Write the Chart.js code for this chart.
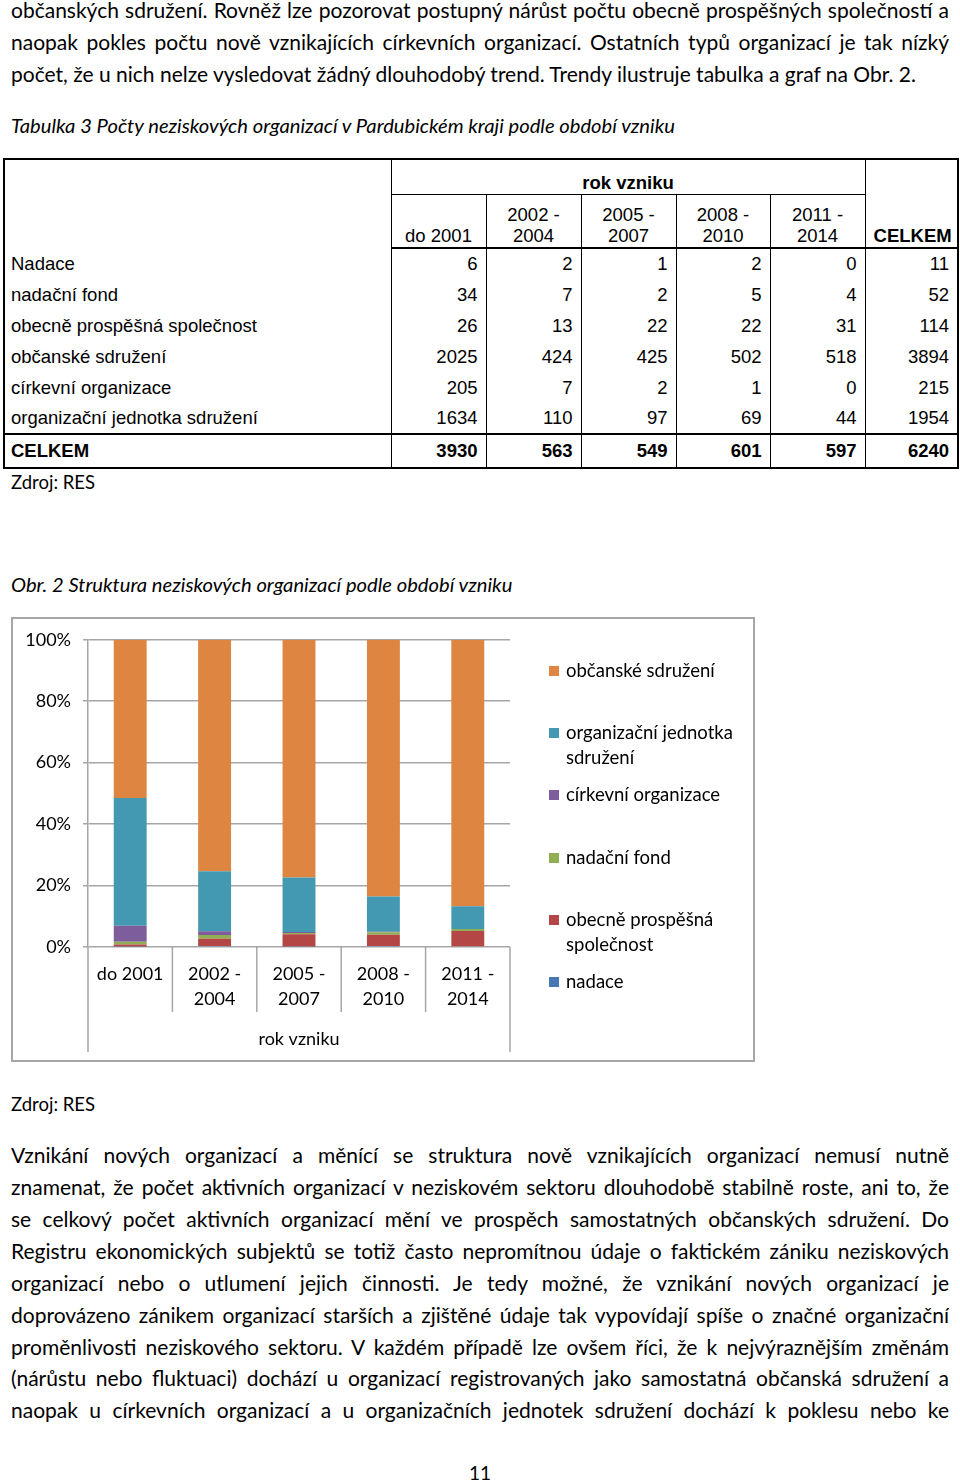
<!DOCTYPE html>
<html lang="cs">
<head>
<meta charset="utf-8">
<title>Struktura neziskových organizací</title>
<script src="https://cdn.jsdelivr.net/npm/chart.js@4.4.1/dist/chart.umd.min.js"></script>
<style>
  body { margin: 0; background: #fff; width: 960px; height: 1484px; position: relative; overflow: hidden; font-family: Lato, "Noto Sans", sans-serif; color: #000; }
  .ln { position: absolute; left: 11px; width: 938px; height: 32px; line-height: 32px; font-size: 21px; white-space: nowrap; }
  .j { text-align: justify; text-align-last: justify; white-space: normal; overflow: hidden; }
  .cap { font-style: italic; font-size: 20.2px; }
  #tbl { position: absolute; left: 3px; top: 158px; width: 954px; border-collapse: collapse; table-layout: fixed;
         font-family: "Liberation Sans", Arial, sans-serif; font-size: 18.5px; border: 2px solid #000; }
  #tbl td { padding: 0 8px; border: 0; white-space: nowrap; }
  #tbl td.lab { padding-left: 6px; }
  #tbl td.v { border-left: 1px solid #000; }
  #tbl td.num { text-align: right; }
  #tbl td.hd { text-align: center; vertical-align: bottom; line-height: 21px; padding-bottom: 1px; }
  #tbl tr.h2 td { border-bottom: 2px solid #000; }
  #tbl tr.tot td { border-top: 2px solid #000; font-weight: bold; }
  #chartBox { position: absolute; left: 11px; top: 617px; width: 744px; height: 445px; }
  #chartFrame { position: absolute; left: 11px; top: 617px; width: 744px; height: 445px; box-sizing: border-box; border: 2px solid #a6a6a6; pointer-events: none; }
  #legend { position: absolute; left: 549px; top: 658px; font-size: 18.5px; }
  #legend .it { height: 62.2px; position: relative; }
  #legend .sw { position: absolute; left: 0; top: 8px; width: 10px; height: 10px; }
  #legend .tx { position: absolute; left: 17px; top: 0; line-height: 25px; white-space: nowrap; }
</style>
</head>
<body>

<div class="ln j" style="top:-6px">občanských sdružení. Rovněž lze pozorovat postupný nárůst počtu obecně prospěšných společností a</div>
<div class="ln j" style="top:26px">naopak pokles počtu nově vznikajících církevních organizací. Ostatních typů organizací je tak nízký</div>
<div class="ln" style="top:58px">počet, že u nich nelze vysledovat žádný dlouhodobý trend. Trendy ilustruje tabulka a graf na Obr. 2.</div>

<div class="ln cap" style="top:109px">Tabulka 3 Počty neziskových organizací v Pardubickém kraji podle období vzniku</div>

<table id="tbl">
  <colgroup>
    <col style="width:387px"><col style="width:95px"><col style="width:95px"><col style="width:95px">
    <col style="width:94px"><col style="width:95px"><col style="width:93px">
  </colgroup>
  <tbody id="tblBody"></tbody>
</table>

<div class="ln" style="top:466px;font-size:18.5px">Zdroj: RES</div>

<div class="ln cap" style="top:568px">Obr. 2 Struktura neziskových organizací podle období vzniku</div>

<div id="chartBox"><canvas id="chart" width="744" height="445"></canvas></div>
<div id="chartFrame"></div>
<div id="legend"></div>

<div class="ln" style="top:1088px;font-size:18.5px">Zdroj: RES</div>

<div class="ln j" style="top:1139px">Vznikání nových organizací a měnící se struktura nově vznikajících organizací nemusí nutně</div>
<div class="ln j" style="top:1171px">znamenat, že počet aktivních organizací v neziskovém sektoru dlouhodobě stabilně roste, ani to, že</div>
<div class="ln j" style="top:1203px">se celkový počet aktivních organizací mění ve prospěch samostatných občanských sdružení. Do</div>
<div class="ln j" style="top:1235px">Registru ekonomických subjektů se totiž často nepromítnou údaje o faktickém zániku neziskových</div>
<div class="ln j" style="top:1267px">organizací nebo o utlumení jejich činnosti. Je tedy možné, že vznikání nových organizací je</div>
<div class="ln j" style="top:1299px">doprovázeno zánikem organizací starších a zjištěné údaje tak vypovídají spíše o značné organizační</div>
<div class="ln j" style="top:1331px">proměnlivosti neziskového sektoru. V každém případě lze ovšem říci, že k nejvýraznějším změnám</div>
<div class="ln j" style="top:1362px">(nárůstu nebo fluktuaci) dochází u organizací registrovaných jako samostatná občanská sdružení a</div>
<div class="ln j" style="top:1394px">naopak u církevních organizací a u organizačních jednotek sdružení dochází k poklesu nebo ke</div>

<div class="ln" style="top:1457px;text-align:center;font-size:19px">11</div>

<script>
// období vzniku
const periods = ['do 2001', '2002 - 2004', '2005 - 2007', '2008 - 2010', '2011 - 2014'];
const periodLines = [['do 2001'], ['2002 -', '2004'], ['2005 -', '2007'], ['2008 -', '2010'], ['2011 -', '2014']];

// počty organizací podle typu (Tabulka 3)
const nadace = [6, 2, 1, 2, 0];
const nadacniFond = [34, 7, 2, 5, 4];
const obecneProspesna = [26, 13, 22, 22, 31];
const obcanskeSdruzeni = [2025, 424, 425, 502, 518];
const cirkevniOrg = [205, 7, 2, 1, 0];
const orgJednotka = [1634, 110, 97, 69, 44];

const yTicks = [0, 20, 40, 60, 80, 100];
const gridColor = '#a6a6a6';

// tabulka
const tableRows = [
  ['Nadace', nadace],
  ['nadační fond', nadacniFond],
  ['obecně prospěšná společnost', obecneProspesna],
  ['občanské sdružení', obcanskeSdruzeni],
  ['církevní organizace', cirkevniOrg],
  ['organizační jednotka sdružení', orgJednotka]
];
const colTotals = periods.map((p, i) => tableRows.reduce((s, r) => s + r[1][i], 0));

let html = '<tr style="height:35px"><td rowspan="2"></td>' +
  '<td colspan="5" class="v" style="text-align:center;vertical-align:bottom;padding-bottom:0;line-height:22px;font-weight:bold;border-bottom:1.5px solid #000">rok vzniku</td>' +
  '<td rowspan="2" class="v hd" style="font-weight:bold;border-bottom:2px solid #000">CELKEM</td></tr>';
html += '<tr class="h2" style="height:54px">' +
  periodLines.map(l => '<td class="v hd">' + l.join('<br>') + '</td>').join('') + '</tr>';
tableRows.forEach(([name, vals]) => {
  const sum = vals.reduce((a, b) => a + b, 0);
  html += '<tr style="height:31px"><td class="lab">' + name + '</td>' +
    vals.map(v => '<td class="v num">' + v + '</td>').join('') +
    '<td class="v num">' + sum + '</td></tr>';
});
html += '<tr class="tot" style="height:34px"><td class="lab">CELKEM</td>' +
  colTotals.map(v => '<td class="v num">' + v + '</td>').join('') +
  '<td class="v num">' + colTotals.reduce((a, b) => a + b, 0) + '</td></tr>';
document.getElementById('tblBody').innerHTML = html;

// graf – 100% skládaný sloupcový
const share = arr => arr.map((v, i) => v / colTotals[i] * 100);
const series = [
  { label: ['nadace'], data: nadace, color: '#4678b4' },
  { label: ['obecně prospěšná', 'společnost'], data: obecneProspesna, color: '#b44646' },
  { label: ['nadační fond'], data: nadacniFond, color: '#92ae55' },
  { label: ['církevní organizace'], data: cirkevniOrg, color: '#7d5d9b' },
  { label: ['organizační jednotka', 'sdružení'], data: orgJednotka, color: '#4499b2' },
  { label: ['občanské sdružení'], data: obcanskeSdruzeni, color: '#dd8541' }
];

// legenda (Excel: odshora v opačném pořadí)
document.getElementById('legend').innerHTML = series.slice().reverse().map(s =>
  '<div class="it"><span class="sw" style="background:' + s.color + '"></span>' +
  '<span class="tx">' + s.label.join('<br>') + '</span></div>').join('');

const separators = {
  id: 'separators',
  afterDraw(chart) {
    const { ctx, scales: { x }, chartArea } = chart;
    const n = x.ticks.length;
    ctx.save();
    ctx.strokeStyle = gridColor;
    ctx.lineWidth = 1.5;
    for (let i = 0; i <= n; i++) {
      let px;
      if (i === 0) px = x.left;
      else if (i === n) px = x.right;
      else px = (x.getPixelForTick(i - 1) + x.getPixelForTick(i)) / 2;
      const end = (i === 0 || i === n) ? x.bottom - 10 : chartArea.bottom + 65;
      ctx.beginPath();
      ctx.moveTo(px, chartArea.bottom);
      ctx.lineTo(px, end);
      ctx.stroke();
    }
    ctx.restore();
  }
};

const font = { family: 'Lato, "Noto Sans", sans-serif', size: 18 };

new Chart(document.getElementById('chart'), {
  type: 'bar',
  data: {
    labels: periodLines,
    datasets: series.map(s => ({
      label: s.label.join(' '),
      data: share(s.data),
      backgroundColor: s.color,
      borderWidth: 0,
      categoryPercentage: 1,
      barPercentage: 0.39
    }))
  },
  options: {
    responsive: false,
    animation: false,
    layout: { padding: { top: 22, right: 245, left: 0, bottom: 0 } },
    plugins: { legend: { display: false }, tooltip: { enabled: false } },
    scales: {
      x: {
        stacked: true,
        grid: { display: false },
        border: { display: false },
        ticks: { color: '#000', font: { ...font, lineHeight: '25px' }, padding: 7, maxRotation: 0, autoSkip: false },
        title: { display: true, text: 'rok vzniku', color: '#000', font: font, padding: { top: 0, bottom: 12 } },
        afterFit(scale) { scale.height = 115; }
      },
      y: {
        stacked: true,
        min: 0,
        max: 100,
        afterBuildTicks(scale) { scale.ticks = yTicks.map(v => ({ value: v })); },
        ticks: { color: '#000', font: font, padding: 12, callback: v => v + '%' },
        grid: { color: gridColor, lineWidth: 1.5, tickLength: 5, drawTicks: true },
        border: { display: true, color: gridColor, width: 1.5 },
        afterFit(scale) { scale.width = 77; }
      }
    }
  },
  plugins: [separators]
});
</script>
</body>
</html>
